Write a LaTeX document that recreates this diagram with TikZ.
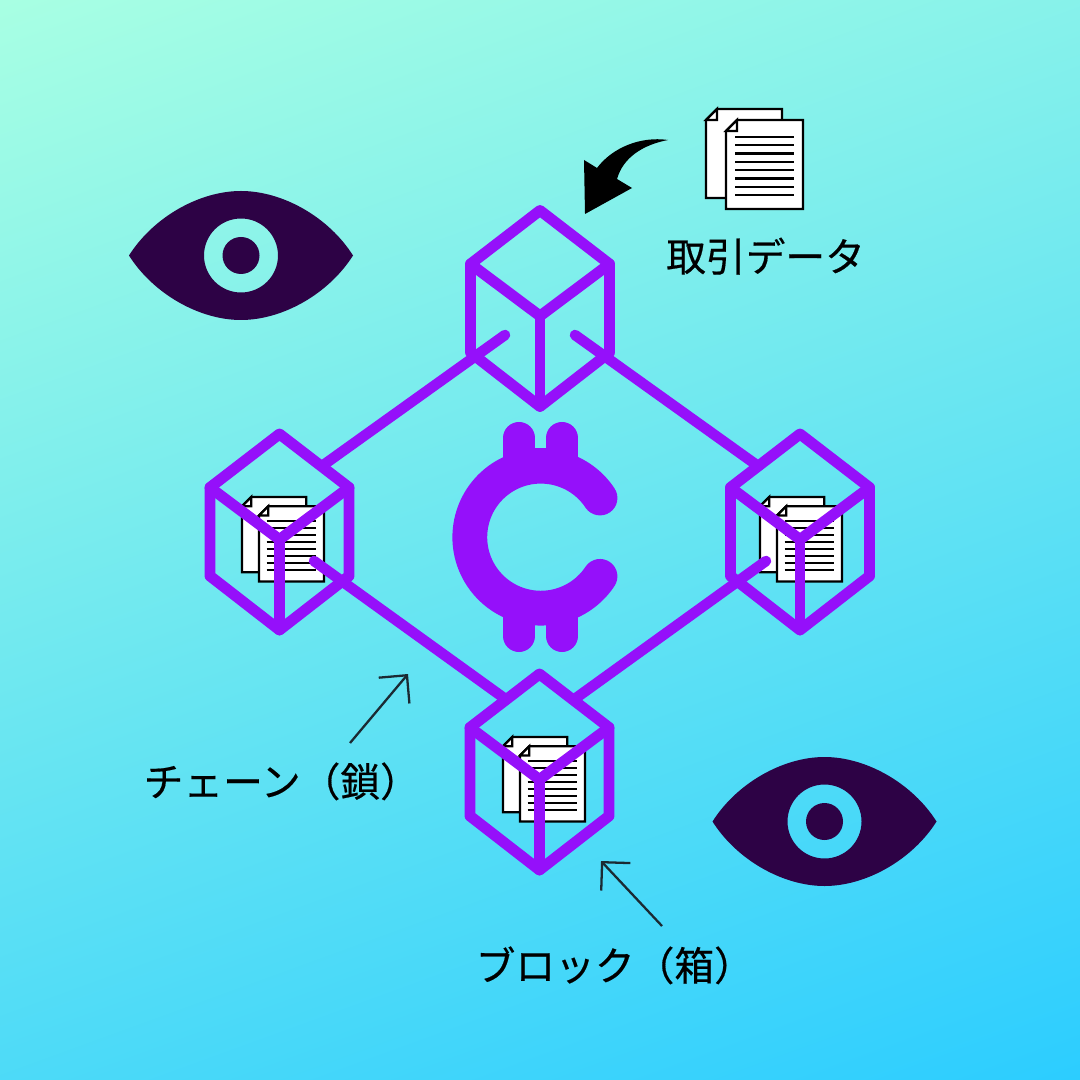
\documentclass[tikz,border=0pt]{standalone}
\usepackage{fontspec}
\usetikzlibrary{arrows.meta}
\newfontfamily\jpfont[FakeBold=0.4]{Noto Sans CJK JP}
\definecolor{bgstart}{HTML}{A8FFE3}
\definecolor{bgend}{HTML}{2CCDFF}
\definecolor{chainpurple}{HTML}{9510FA}
\definecolor{eyedark}{HTML}{2D0245}
\definecolor{pointer}{HTML}{1B2A33}
\tikzset{
  x=0.01cm,y=-0.01cm,
  chainline/.style={draw=chainpurple,line width=3.1pt,line join=round,line cap=round},
  linkline/.style={draw=chainpurple,line width=3pt,line cap=round},
  pointerline/.style={draw=pointer,line width=0.65pt,-{Straight Barb[length=5.7pt,width=11.4pt,line width=0.65pt]}},
  jplabel/.style={inner sep=0pt,anchor=base west,font=\jpfont\fontsize{11.3pt}{13pt}\selectfont,text=black},
  paper/.style={draw=black,fill=white,line width=0.65pt,line join=miter},
  cubepic/.pic={
    \path[chainline] (0,0) -- (69.5,53.5) -- (69.5,142) -- (0,196) -- (-69.5,142) -- (-69.5,53.5) -- cycle;
    \path[chainline] (-69.5,53.5) -- (0,105.5) -- (69.5,53.5);
    \path[chainline] (0,105.5) -- (0,196);
  },
  docpair/.pic={
    \path[paper] (0,11) -- (11,0) -- (76,0) -- (76,89) -- (0,89) -- cycle;
    \path[paper] (0,11) -- (11,11) -- (11,0) -- cycle;
    \path[paper] (20,22) -- (31,11) -- (97,11) -- (97,100) -- (20,100) -- cycle;
    \path[paper] (20,22) -- (31,22) -- (31,11) -- cycle;
    \foreach \ly in {28,36.3,44.6,52.9,61.2,69.5,77.8,86}
      \draw[black,line width=0.65pt] (29,\ly) -- (88,\ly);
  },
  eyepic/.pic={
    \fill[eyedark,even odd rule]
      (-112,0) .. controls (-88,-38) and (-42,-64.5) .. (0,-64.5)
      .. controls (42,-64.5) and (88,-38) .. (112,0)
      .. controls (88,38) and (42,64.5) .. (0,64.5)
      .. controls (-42,64.5) and (-88,38) .. (-112,0) -- cycle
      (0,0) circle[radius=37]
      (0,0) circle[radius=18.5];
  },
}
\begin{document}
\begin{tikzpicture}
\useasboundingbox (0,0) rectangle (1080,1080);
\begin{scope}
  \clip (0,0) rectangle (1080,1080);
  \shade[top color=bgstart,bottom color=bgend,shading angle=20] (-152,-152) rectangle (1232,1232);
\end{scope}

% eyes
\pic at (241,255.5) {eyepic};
\pic at (824.5,821.5) {eyepic};

% documents
\pic at (706,109) {docpair};
\pic[scale=0.845] at (242,497) {docpair};
\pic[scale=0.845] at (760,497) {docpair};
\pic[scale=0.845] at (503,737) {docpair};

% cubes
\coordinate (cubetop) at (540,210.5);
\coordinate (cubeleft) at (279.5,434);
\coordinate (cuberight) at (800,434);
\coordinate (cubebottom) at (539.5,674);
\pic at (cubetop) {cubepic};
\pic at (cubeleft) {cubepic};
\pic at (cuberight) {cubepic};
\pic at (cubebottom) {cubepic};

% chain links
\coordinate (la) at (505,335); \coordinate (lb) at (322,466);
\coordinate (ra) at (575,335); \coordinate (rb) at (758,466);
\coordinate (lc) at (314,561); \coordinate (ld) at (504,698);
\coordinate (rc) at (766,561); \coordinate (rd) at (576,698);
\path[linkline] (la) -- (lb);
\path[linkline] (ra) -- (rb);
\path[linkline] (lc) -- (ld);
\path[linkline] (rc) -- (rd);

% coin symbol
\fill[chainpurple] (535,448) rectangle (547,470);
\fill[chainpurple] (535,604) rectangle (547,625);
\draw[chainpurple,line width=9.1pt,line cap=round] (519,438) -- (519,455);
\draw[chainpurple,line width=9.1pt,line cap=round] (562,438) -- (562,455);
\draw[chainpurple,line width=9.1pt,line cap=round] (519,636) -- (519,619);
\draw[chainpurple,line width=9.1pt,line cap=round] (562,636) -- (562,619);
\draw[chainpurple,line width=9.9pt,line cap=round] (600,498) arc[start angle=-33.5,end angle=-326.5,radius=71];

% incoming arrow
\fill[black] (668,140) .. controls (640,136) and (612,148) .. (597,168)
  -- (584,160) -- (585,214) -- (632,188) -- (617,179)
  .. controls (623,158) and (642,145) .. (668,140) -- cycle;

% labels
\node[jplabel] (datalabel) at (665.5,271.5) {取引データ};
\node[jplabel] (chainlabel) at (143,796.5) {チェーン（鎖）};
\node[jplabel] (blocklabel) at (475,980.5) {ブロック（箱）};

% pointers
\coordinate (chainstart) at (350,743);
\coordinate (chaintip) at (408,674);
\coordinate (blockstart) at (662,926);
\coordinate (blocktip) at (601,861);
\path[pointerline] (chainstart) -- (chaintip);
\path[pointerline] (blockstart) -- (blocktip);
\end{tikzpicture}
\end{document}
